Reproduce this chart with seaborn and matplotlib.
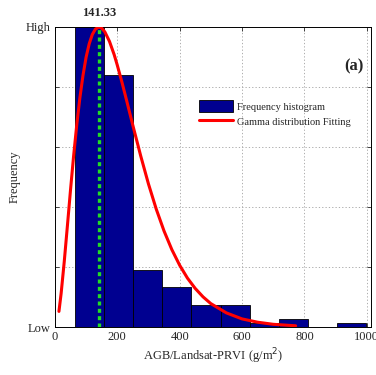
import numpy as np
import pandas as pd
import matplotlib
matplotlib.use("Agg")
import matplotlib.pyplot as plt
import seaborn as sns

# ---- data ----
bin_edges = [64, 157.5, 251, 344.5, 438, 531.5, 625, 718.5, 812, 905.5, 999]
bin_heights = [1.0, 0.84, 0.19, 0.133, 0.073, 0.073, 0.013, 0.027, 0.0, 0.013]
fit_x = [13, 20, 30, 40, 50, 60, 70, 80, 90, 100, 110, 120, 130, 141.33, 150,
         160, 175, 190, 200, 215, 230, 250, 275, 300, 325, 350, 375, 400, 425,
         450, 475, 500, 550, 600, 650, 700, 772]
fit_y = [0.052, 0.112, 0.218, 0.336, 0.456, 0.570, 0.673, 0.763, 0.838, 0.899,
         0.944, 0.975, 0.993, 1.0, 0.996, 0.984, 0.952, 0.908, 0.873, 0.816,
         0.755, 0.672, 0.571, 0.477, 0.393, 0.320, 0.258, 0.206, 0.163,
         0.1285, 0.1005, 0.078, 0.047, 0.027, 0.016, 0.009, 0.004]
peak_value = 141.33
x_ticks = [0, 200, 400, 600, 800, 1000]
y_tick_labels = ["Low", "", "", "", "", "High"]

sns.set_theme(style="white")
plt.rcParams['font.family'] = ['Liberation Serif', 'DejaVu Serif']

fig = plt.figure(figsize=(3.76, 3.75), dpi=100)
ax = fig.add_axes([0.146, 0.128, 0.841, 0.800])

centers = [(bin_edges[i] + bin_edges[i + 1]) / 2 for i in range(len(bin_heights))]
hist_df = pd.DataFrame({"x": centers, "w": bin_heights})
sns.histplot(data=hist_df, x="x", weights="w", bins=bin_edges, ax=ax,
             color="#000090", alpha=1.0, edgecolor="black", linewidth=0.6,
             label="Frequency histogram", zorder=2)

fit_df = pd.DataFrame({"x": fit_x, "y": fit_y})
sns.lineplot(data=fit_df, x="x", y="y", ax=ax, color="#ff0000", linewidth=2.2,
             label="Gamma distribution Fitting", zorder=4)

ax.axvline(peak_value, color="#22dd22", linestyle=(0, (1.2, 1.0)), linewidth=2.4, zorder=5)
ax.text(peak_value, 1.025, f"{peak_value:.2f}", transform=ax.get_xaxis_transform(),
        ha="center", va="bottom", fontsize=9, fontweight="bold")

ax.set_xlim(0, 1014)
ax.set_ylim(0, 1.0)
ax.set_xticks(x_ticks)
ax.set_xticklabels([str(t) for t in x_ticks], fontsize=9)
ax.set_yticks(np.linspace(0, 1, 6))
ax.set_yticklabels(y_tick_labels, fontsize=9)
ax.tick_params(direction="in", length=3, width=0.6, top=True, right=True,
               bottom=True, left=True, pad=3)
ax.grid(True, linestyle=(0, (1.5, 2.5)), color="#a0a0a0", linewidth=0.6, zorder=0)
ax.set_axisbelow(True)
for s in ax.spines.values():
    s.set_color("black")
    s.set_linewidth(0.7)

ax.set_xlabel("AGB/Landsat-PRVI (g/m$^2$)", fontsize=9, labelpad=2)
ax.set_ylabel("Frequency", fontsize=9, labelpad=4)

ax.text(0.975, 0.87, "(a)", transform=ax.transAxes, ha="right", va="center",
        fontsize=12, fontweight="bold")

handles, labels = ax.get_legend_handles_labels()
order = [labels.index("Frequency histogram"), labels.index("Gamma distribution Fitting")]
ax.legend([handles[i] for i in order], [labels[i] for i in order],
          loc="upper left", bbox_to_anchor=(0.455, 0.755), frameon=False,
          fontsize=7.5, handlelength=3.3, handleheight=1.3, handletextpad=0.4,
          labelspacing=0.35, borderaxespad=0, borderpad=0)

fig.savefig("out.png", dpi=100)
